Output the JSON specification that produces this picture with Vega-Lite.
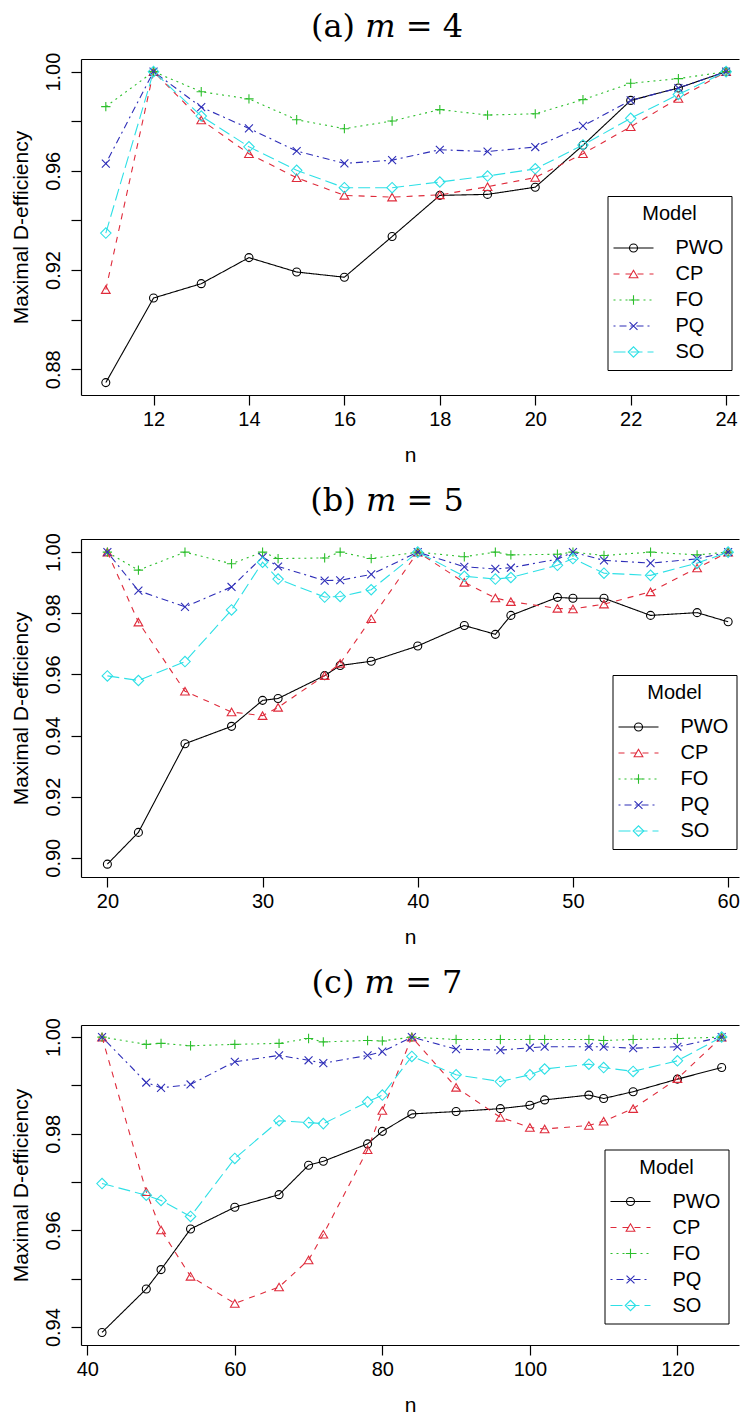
{
  "$schema": "https://vega.github.io/schema/vega-lite/v6.json",
  "background": "white",
  "padding": {"left": 10, "top": 11, "right": 0, "bottom": 0},
  "config": {
    "font": "Liberation Sans",
    "view": {"stroke": null},
    "title": {"font": "DejaVu Serif", "fontSize": 32, "fontWeight": "normal", "color": "#000", "anchor": "middle", "dx": -23},
    "axis": {"domainColor": "#000", "tickColor": "#000", "labelColor": "#000", "titleColor": "#000", "labelFont": "Liberation Sans", "titleFont": "Liberation Sans", "labelFontSize": 20, "titleFontSize": 21, "titleFontWeight": "normal", "tickSize": 10, "grid": false, "domainWidth": 1.2, "tickWidth": 1.2, "labelOverlap": false, "labelFlush": false},
    "axisX": {"labelPadding": 4, "titlePadding": 15},
    "axisY": {"labelAngle": 270, "labelAlign": "center", "labelBaseline": "alphabetic", "labelPadding": 12, "titlePadding": 13.5, "minExtent": 36, "maxExtent": 36},
    "legend": {"labelFont": "Liberation Sans", "titleFont": "Liberation Sans", "labelFontSize": 20, "titleFontSize": 20, "titleFontWeight": "normal", "rowPadding": 6, "padding": 8, "titlePadding": 14, "titleAnchor": "middle", "symbolStrokeWidth": 1.1}
  },
  "datasets": {
    "a": [
      {"model": "PWO", "n": 11, "eff": 0.8746}, {"model": "PWO", "n": 12, "eff": 0.9087}, {"model": "PWO", "n": 13, "eff": 0.9145}, {"model": "PWO", "n": 14, "eff": 0.925}, {"model": "PWO", "n": 15, "eff": 0.9192}, {"model": "PWO", "n": 16, "eff": 0.9171}, {"model": "PWO", "n": 17, "eff": 0.9335}, {"model": "PWO", "n": 18, "eff": 0.9501}, {"model": "PWO", "n": 19, "eff": 0.9505}, {"model": "PWO", "n": 20, "eff": 0.9534}, {"model": "PWO", "n": 21, "eff": 0.9703}, {"model": "PWO", "n": 22, "eff": 0.9884}, {"model": "PWO", "n": 23, "eff": 0.9934}, {"model": "PWO", "n": 24, "eff": 1.0},
      {"model": "CP", "n": 11, "eff": 0.9121}, {"model": "CP", "n": 12, "eff": 1.0}, {"model": "CP", "n": 13, "eff": 0.9805}, {"model": "CP", "n": 14, "eff": 0.9669}, {"model": "CP", "n": 15, "eff": 0.9572}, {"model": "CP", "n": 16, "eff": 0.9501}, {"model": "CP", "n": 17, "eff": 0.9494}, {"model": "CP", "n": 18, "eff": 0.9503}, {"model": "CP", "n": 19, "eff": 0.9536}, {"model": "CP", "n": 20, "eff": 0.9573}, {"model": "CP", "n": 21, "eff": 0.9669}, {"model": "CP", "n": 22, "eff": 0.9778}, {"model": "CP", "n": 23, "eff": 0.9892}, {"model": "CP", "n": 24, "eff": 1.0},
      {"model": "FO", "n": 11, "eff": 0.9859}, {"model": "FO", "n": 12, "eff": 1.0}, {"model": "FO", "n": 13, "eff": 0.9919}, {"model": "FO", "n": 14, "eff": 0.989}, {"model": "FO", "n": 15, "eff": 0.9806}, {"model": "FO", "n": 16, "eff": 0.977}, {"model": "FO", "n": 17, "eff": 0.9801}, {"model": "FO", "n": 18, "eff": 0.9847}, {"model": "FO", "n": 19, "eff": 0.9825}, {"model": "FO", "n": 20, "eff": 0.983}, {"model": "FO", "n": 21, "eff": 0.9887}, {"model": "FO", "n": 22, "eff": 0.9953}, {"model": "FO", "n": 23, "eff": 0.9972}, {"model": "FO", "n": 24, "eff": 1.0},
      {"model": "PQ", "n": 11, "eff": 0.9629}, {"model": "PQ", "n": 12, "eff": 1.0}, {"model": "PQ", "n": 13, "eff": 0.9857}, {"model": "PQ", "n": 14, "eff": 0.9771}, {"model": "PQ", "n": 15, "eff": 0.968}, {"model": "PQ", "n": 16, "eff": 0.963}, {"model": "PQ", "n": 17, "eff": 0.9643}, {"model": "PQ", "n": 18, "eff": 0.9685}, {"model": "PQ", "n": 19, "eff": 0.9678}, {"model": "PQ", "n": 20, "eff": 0.9696}, {"model": "PQ", "n": 21, "eff": 0.9781}, {"model": "PQ", "n": 22, "eff": 0.9884}, {"model": "PQ", "n": 23, "eff": 0.9934}, {"model": "PQ", "n": 24, "eff": 1.0},
      {"model": "SO", "n": 11, "eff": 0.9349}, {"model": "SO", "n": 12, "eff": 1.0}, {"model": "SO", "n": 13, "eff": 0.9821}, {"model": "SO", "n": 14, "eff": 0.9697}, {"model": "SO", "n": 15, "eff": 0.9602}, {"model": "SO", "n": 16, "eff": 0.9532}, {"model": "SO", "n": 17, "eff": 0.9532}, {"model": "SO", "n": 18, "eff": 0.9555}, {"model": "SO", "n": 19, "eff": 0.9579}, {"model": "SO", "n": 20, "eff": 0.9608}, {"model": "SO", "n": 21, "eff": 0.9704}, {"model": "SO", "n": 22, "eff": 0.9812}, {"model": "SO", "n": 23, "eff": 0.9908}, {"model": "SO", "n": 24, "eff": 1.0}
    ],
    "b": [
      {"model": "PWO", "n": 20, "eff": 0.8979}, {"model": "PWO", "n": 22, "eff": 0.9083}, {"model": "PWO", "n": 25, "eff": 0.9373}, {"model": "PWO", "n": 28, "eff": 0.943}, {"model": "PWO", "n": 30, "eff": 0.9515}, {"model": "PWO", "n": 31, "eff": 0.9521}, {"model": "PWO", "n": 34, "eff": 0.9596}, {"model": "PWO", "n": 35, "eff": 0.9629}, {"model": "PWO", "n": 37, "eff": 0.9643}, {"model": "PWO", "n": 40, "eff": 0.9693}, {"model": "PWO", "n": 43, "eff": 0.976}, {"model": "PWO", "n": 45, "eff": 0.9731}, {"model": "PWO", "n": 46, "eff": 0.9793}, {"model": "PWO", "n": 49, "eff": 0.9852}, {"model": "PWO", "n": 50, "eff": 0.9849}, {"model": "PWO", "n": 52, "eff": 0.9849}, {"model": "PWO", "n": 55, "eff": 0.9793}, {"model": "PWO", "n": 58, "eff": 0.9802}, {"model": "PWO", "n": 60, "eff": 0.9772},
      {"model": "CP", "n": 20, "eff": 1.0}, {"model": "CP", "n": 22, "eff": 0.9771}, {"model": "CP", "n": 25, "eff": 0.9545}, {"model": "CP", "n": 28, "eff": 0.9477}, {"model": "CP", "n": 30, "eff": 0.9465}, {"model": "CP", "n": 31, "eff": 0.9492}, {"model": "CP", "n": 34, "eff": 0.9596}, {"model": "CP", "n": 35, "eff": 0.9636}, {"model": "CP", "n": 37, "eff": 0.9782}, {"model": "CP", "n": 40, "eff": 1.0}, {"model": "CP", "n": 43, "eff": 0.9901}, {"model": "CP", "n": 45, "eff": 0.985}, {"model": "CP", "n": 46, "eff": 0.9838}, {"model": "CP", "n": 49, "eff": 0.9816}, {"model": "CP", "n": 50, "eff": 0.9814}, {"model": "CP", "n": 52, "eff": 0.983}, {"model": "CP", "n": 55, "eff": 0.987}, {"model": "CP", "n": 58, "eff": 0.9948}, {"model": "CP", "n": 60, "eff": 1.0},
      {"model": "FO", "n": 20, "eff": 1.0}, {"model": "FO", "n": 22, "eff": 0.9941}, {"model": "FO", "n": 25, "eff": 1.0}, {"model": "FO", "n": 28, "eff": 0.9962}, {"model": "FO", "n": 30, "eff": 1.0}, {"model": "FO", "n": 31, "eff": 0.9979}, {"model": "FO", "n": 34, "eff": 0.9981}, {"model": "FO", "n": 35, "eff": 1.0}, {"model": "FO", "n": 37, "eff": 0.9979}, {"model": "FO", "n": 40, "eff": 1.0}, {"model": "FO", "n": 43, "eff": 0.9985}, {"model": "FO", "n": 45, "eff": 1.0}, {"model": "FO", "n": 46, "eff": 0.9991}, {"model": "FO", "n": 49, "eff": 0.9993}, {"model": "FO", "n": 50, "eff": 1.0}, {"model": "FO", "n": 52, "eff": 0.9989}, {"model": "FO", "n": 55, "eff": 1.0}, {"model": "FO", "n": 58, "eff": 0.9991}, {"model": "FO", "n": 60, "eff": 1.0},
      {"model": "PQ", "n": 20, "eff": 1.0}, {"model": "PQ", "n": 22, "eff": 0.9874}, {"model": "PQ", "n": 25, "eff": 0.9821}, {"model": "PQ", "n": 28, "eff": 0.9886}, {"model": "PQ", "n": 30, "eff": 0.9984}, {"model": "PQ", "n": 31, "eff": 0.9953}, {"model": "PQ", "n": 34, "eff": 0.9907}, {"model": "PQ", "n": 35, "eff": 0.9908}, {"model": "PQ", "n": 37, "eff": 0.9927}, {"model": "PQ", "n": 40, "eff": 1.0}, {"model": "PQ", "n": 43, "eff": 0.9952}, {"model": "PQ", "n": 45, "eff": 0.9945}, {"model": "PQ", "n": 46, "eff": 0.9949}, {"model": "PQ", "n": 49, "eff": 0.9977}, {"model": "PQ", "n": 50, "eff": 1.0}, {"model": "PQ", "n": 52, "eff": 0.9973}, {"model": "PQ", "n": 55, "eff": 0.9964}, {"model": "PQ", "n": 58, "eff": 0.9978}, {"model": "PQ", "n": 60, "eff": 1.0},
      {"model": "SO", "n": 20, "eff": 0.9595}, {"model": "SO", "n": 22, "eff": 0.958}, {"model": "SO", "n": 25, "eff": 0.9642}, {"model": "SO", "n": 28, "eff": 0.9811}, {"model": "SO", "n": 30, "eff": 0.9967}, {"model": "SO", "n": 31, "eff": 0.9912}, {"model": "SO", "n": 34, "eff": 0.9853}, {"model": "SO", "n": 35, "eff": 0.9855}, {"model": "SO", "n": 37, "eff": 0.9877}, {"model": "SO", "n": 40, "eff": 1.0}, {"model": "SO", "n": 43, "eff": 0.9921}, {"model": "SO", "n": 45, "eff": 0.9912}, {"model": "SO", "n": 46, "eff": 0.9917}, {"model": "SO", "n": 49, "eff": 0.9957}, {"model": "SO", "n": 50, "eff": 0.9979}, {"model": "SO", "n": 52, "eff": 0.9931}, {"model": "SO", "n": 55, "eff": 0.9924}, {"model": "SO", "n": 58, "eff": 0.9964}, {"model": "SO", "n": 60, "eff": 1.0}
    ],
    "c": [
      {"model": "PWO", "n": 42, "eff": 0.9389}, {"model": "PWO", "n": 48, "eff": 0.9479}, {"model": "PWO", "n": 50, "eff": 0.9519}, {"model": "PWO", "n": 54, "eff": 0.9603}, {"model": "PWO", "n": 60, "eff": 0.9648}, {"model": "PWO", "n": 66, "eff": 0.9674}, {"model": "PWO", "n": 70, "eff": 0.9735}, {"model": "PWO", "n": 72, "eff": 0.9743}, {"model": "PWO", "n": 78, "eff": 0.9779}, {"model": "PWO", "n": 80, "eff": 0.9805}, {"model": "PWO", "n": 84, "eff": 0.9841}, {"model": "PWO", "n": 90, "eff": 0.9846}, {"model": "PWO", "n": 96, "eff": 0.9852}, {"model": "PWO", "n": 100, "eff": 0.9859}, {"model": "PWO", "n": 102, "eff": 0.987}, {"model": "PWO", "n": 108, "eff": 0.988}, {"model": "PWO", "n": 110, "eff": 0.9873}, {"model": "PWO", "n": 114, "eff": 0.9887}, {"model": "PWO", "n": 120, "eff": 0.9913}, {"model": "PWO", "n": 126, "eff": 0.9937},
      {"model": "CP", "n": 42, "eff": 1.0}, {"model": "CP", "n": 48, "eff": 0.968}, {"model": "CP", "n": 50, "eff": 0.9601}, {"model": "CP", "n": 54, "eff": 0.9505}, {"model": "CP", "n": 60, "eff": 0.9449}, {"model": "CP", "n": 66, "eff": 0.9483}, {"model": "CP", "n": 70, "eff": 0.9539}, {"model": "CP", "n": 72, "eff": 0.9592}, {"model": "CP", "n": 78, "eff": 0.9767}, {"model": "CP", "n": 80, "eff": 0.9848}, {"model": "CP", "n": 84, "eff": 1.0}, {"model": "CP", "n": 90, "eff": 0.9896}, {"model": "CP", "n": 96, "eff": 0.9834}, {"model": "CP", "n": 100, "eff": 0.9813}, {"model": "CP", "n": 102, "eff": 0.981}, {"model": "CP", "n": 108, "eff": 0.9817}, {"model": "CP", "n": 110, "eff": 0.9826}, {"model": "CP", "n": 114, "eff": 0.9852}, {"model": "CP", "n": 120, "eff": 0.9914}, {"model": "CP", "n": 126, "eff": 1.0},
      {"model": "FO", "n": 42, "eff": 1.0}, {"model": "FO", "n": 48, "eff": 0.9985}, {"model": "FO", "n": 50, "eff": 0.9987}, {"model": "FO", "n": 54, "eff": 0.9982}, {"model": "FO", "n": 60, "eff": 0.9985}, {"model": "FO", "n": 66, "eff": 0.9987}, {"model": "FO", "n": 70, "eff": 0.9997}, {"model": "FO", "n": 72, "eff": 0.999}, {"model": "FO", "n": 78, "eff": 0.9993}, {"model": "FO", "n": 80, "eff": 0.9992}, {"model": "FO", "n": 84, "eff": 1.0}, {"model": "FO", "n": 90, "eff": 0.9995}, {"model": "FO", "n": 96, "eff": 0.9995}, {"model": "FO", "n": 100, "eff": 0.9995}, {"model": "FO", "n": 102, "eff": 0.9995}, {"model": "FO", "n": 108, "eff": 0.9995}, {"model": "FO", "n": 110, "eff": 0.9993}, {"model": "FO", "n": 114, "eff": 0.9995}, {"model": "FO", "n": 120, "eff": 0.9997}, {"model": "FO", "n": 126, "eff": 1.0},
      {"model": "PQ", "n": 42, "eff": 1.0}, {"model": "PQ", "n": 48, "eff": 0.9906}, {"model": "PQ", "n": 50, "eff": 0.9895}, {"model": "PQ", "n": 54, "eff": 0.9902}, {"model": "PQ", "n": 60, "eff": 0.9949}, {"model": "PQ", "n": 66, "eff": 0.9962}, {"model": "PQ", "n": 70, "eff": 0.9952}, {"model": "PQ", "n": 72, "eff": 0.9946}, {"model": "PQ", "n": 78, "eff": 0.9962}, {"model": "PQ", "n": 80, "eff": 0.997}, {"model": "PQ", "n": 84, "eff": 1.0}, {"model": "PQ", "n": 90, "eff": 0.9975}, {"model": "PQ", "n": 96, "eff": 0.9973}, {"model": "PQ", "n": 100, "eff": 0.9978}, {"model": "PQ", "n": 102, "eff": 0.998}, {"model": "PQ", "n": 108, "eff": 0.998}, {"model": "PQ", "n": 110, "eff": 0.998}, {"model": "PQ", "n": 114, "eff": 0.9977}, {"model": "PQ", "n": 120, "eff": 0.998}, {"model": "PQ", "n": 126, "eff": 1.0},
      {"model": "SO", "n": 42, "eff": 0.9697}, {"model": "SO", "n": 48, "eff": 0.9673}, {"model": "SO", "n": 50, "eff": 0.9662}, {"model": "SO", "n": 54, "eff": 0.9629}, {"model": "SO", "n": 60, "eff": 0.9749}, {"model": "SO", "n": 66, "eff": 0.9827}, {"model": "SO", "n": 70, "eff": 0.9823}, {"model": "SO", "n": 72, "eff": 0.9821}, {"model": "SO", "n": 78, "eff": 0.9866}, {"model": "SO", "n": 80, "eff": 0.988}, {"model": "SO", "n": 84, "eff": 0.996}, {"model": "SO", "n": 90, "eff": 0.9922}, {"model": "SO", "n": 96, "eff": 0.9908}, {"model": "SO", "n": 100, "eff": 0.9922}, {"model": "SO", "n": 102, "eff": 0.9934}, {"model": "SO", "n": 108, "eff": 0.9944}, {"model": "SO", "n": 110, "eff": 0.9937}, {"model": "SO", "n": 114, "eff": 0.9929}, {"model": "SO", "n": 120, "eff": 0.9951}, {"model": "SO", "n": 126, "eff": 1.0}
    ]
  },
  "spacing": 19,
  "resolve": {
    "scale": {"color": "independent", "stroke": "independent", "strokeDash": "independent", "shape": "independent", "size": "independent"},
    "legend": {"color": "independent", "stroke": "independent", "strokeDash": "independent", "shape": "independent"}
  },
  "vconcat": [
    {
      "title": {"text": "(a)  𝑚 = 4", "offset": 8},
      "width": 658, "height": 336,
      "data": {"name": "a"},
      "layer": [
        {
          "mark": {"type": "line", "strokeWidth": 1.1},
          "encoding": {
            "x": {"field": "n", "type": "quantitative", "scale": {"domain": [10.48, 24.27], "nice": false, "zero": false}, "axis": {"orient": "bottom", "values": [12, 14, 16, 18, 20, 22, 24], "title": "n"}},
            "y": {"field": "eff", "type": "quantitative", "scale": {"domain": [0.8696, 1.0051], "nice": false, "zero": false}, "axis": {"values": [0.88, 0.9, 0.92, 0.94, 0.96, 0.98, 1.0], "labelExpr": "round(datum.value*100) % 4 == 0 ? format(datum.value, '.2f') : ''", "title": "Maximal D-efficiency"}},
            "stroke": {"field": "model", "type": "nominal", "scale": {"domain": ["PWO", "CP", "FO", "PQ", "SO"], "range": ["#000000", "#DF2B3B", "#2DBF2D", "#2E2EB8", "#2EE0E6"]}, "legend": {"orient": "none", "legendX": 526.5, "legendY": 137, "title": "Model", "symbolType": "M-4,0H4", "symbolSize": 100, "symbolOffset": 8, "labelOffset": 32, "strokeColor": "#000", "labelColor": "#000", "titleColor": "#000"}},
            "strokeDash": {"field": "model", "type": "nominal", "scale": {"domain": ["PWO", "CP", "FO", "PQ", "SO"], "range": [[1, 0], [6, 6], [2, 4], [2, 4, 7, 4], [12, 5]]}, "legend": {"orient": "none", "legendX": 526.5, "legendY": 137, "title": "Model", "symbolType": "M-4,0H4", "symbolSize": 100, "symbolOffset": 8, "labelOffset": 32, "strokeColor": "#000", "labelColor": "#000", "titleColor": "#000"}}
          }
        },
        {
          "mark": {"type": "point", "filled": false, "strokeWidth": 1.1, "opacity": 1},
          "encoding": {
            "x": {"field": "n", "type": "quantitative", "axis": {"orient": "top", "labels": false, "ticks": false, "title": null, "domain": true}},
            "y": {"field": "eff", "type": "quantitative"},
            "color": {"field": "model", "type": "nominal", "sort": null, "scale": {"range": ["#000000", "#DF2B3B", "#2DBF2D", "#2E2EB8", "#2EE0E6"]}, "legend": {"orient": "none", "legendX": 526.5, "legendY": 137, "title": " ", "symbolSize": 80, "symbolOffset": 8, "labelOffset": 32, "labelExpr": "' '", "labelColor": "transparent", "titleColor": "transparent"}},
            "shape": {"field": "model", "type": "nominal", "sort": null, "scale": {"range": ["circle", "triangle-up", "M-1,0H1M0,-1V1", "M-0.8,-0.8L0.8,0.8M-0.8,0.8L0.8,-0.8", "diamond"]}, "legend": {"orient": "none", "legendX": 526.5, "legendY": 137, "title": " ", "symbolSize": 80, "symbolOffset": 8, "labelOffset": 32, "labelExpr": "' '", "labelColor": "transparent", "titleColor": "transparent"}},
            "size": {"field": "model", "type": "ordinal", "sort": null, "scale": {"range": [64, 110, 120, 110, 120]}, "legend": null}
          }
        }
      ]
    },
    {
      "title": {"text": "(b)  𝑚 = 5", "offset": 15},
      "width": 658, "height": 338,
      "data": {"name": "b"},
      "layer": [
        {
          "mark": {"type": "line", "strokeWidth": 1.1},
          "encoding": {
            "x": {"field": "n", "type": "quantitative", "scale": {"domain": [18.3, 60.7], "nice": false, "zero": false}, "axis": {"orient": "bottom", "values": [20, 30, 40, 50, 60], "title": "n"}},
            "y": {"field": "eff", "type": "quantitative", "scale": {"domain": [0.8937, 1.0043], "nice": false, "zero": false}, "axis": {"values": [0.9, 0.92, 0.94, 0.96, 0.98, 1.0], "format": ".2f", "title": "Maximal D-efficiency"}},
            "stroke": {"field": "model", "type": "nominal", "scale": {"domain": ["PWO", "CP", "FO", "PQ", "SO"], "range": ["#000000", "#DF2B3B", "#2DBF2D", "#2E2EB8", "#2EE0E6"]}, "legend": {"orient": "none", "legendX": 531.5, "legendY": 136, "title": "Model", "symbolType": "M-4,0H4", "symbolSize": 100, "symbolOffset": 8, "labelOffset": 32, "strokeColor": "#000", "labelColor": "#000", "titleColor": "#000"}},
            "strokeDash": {"field": "model", "type": "nominal", "scale": {"domain": ["PWO", "CP", "FO", "PQ", "SO"], "range": [[1, 0], [6, 6], [2, 4], [2, 4, 7, 4], [12, 5]]}, "legend": {"orient": "none", "legendX": 531.5, "legendY": 136, "title": "Model", "symbolType": "M-4,0H4", "symbolSize": 100, "symbolOffset": 8, "labelOffset": 32, "strokeColor": "#000", "labelColor": "#000", "titleColor": "#000"}}
          }
        },
        {
          "mark": {"type": "point", "filled": false, "strokeWidth": 1.1, "opacity": 1},
          "encoding": {
            "x": {"field": "n", "type": "quantitative", "axis": {"orient": "top", "labels": false, "ticks": false, "title": null, "domain": true}},
            "y": {"field": "eff", "type": "quantitative"},
            "color": {"field": "model", "type": "nominal", "sort": null, "scale": {"range": ["#000000", "#DF2B3B", "#2DBF2D", "#2E2EB8", "#2EE0E6"]}, "legend": {"orient": "none", "legendX": 531.5, "legendY": 136, "title": " ", "symbolSize": 80, "symbolOffset": 8, "labelOffset": 32, "labelExpr": "' '", "labelColor": "transparent", "titleColor": "transparent"}},
            "shape": {"field": "model", "type": "nominal", "sort": null, "scale": {"range": ["circle", "triangle-up", "M-1,0H1M0,-1V1", "M-0.8,-0.8L0.8,0.8M-0.8,0.8L0.8,-0.8", "diamond"]}, "legend": {"orient": "none", "legendX": 531.5, "legendY": 136, "title": " ", "symbolSize": 80, "symbolOffset": 8, "labelOffset": 32, "labelExpr": "' '", "labelColor": "transparent", "titleColor": "transparent"}},
            "size": {"field": "model", "type": "ordinal", "sort": null, "scale": {"range": [64, 110, 120, 110, 120]}, "legend": null}
          }
        }
      ]
    },
    {
      "title": {"text": "(c)  𝑚 = 7", "offset": 18},
      "width": 658, "height": 320,
      "data": {"name": "c"},
      "layer": [
        {
          "mark": {"type": "line", "strokeWidth": 1.1},
          "encoding": {
            "x": {"field": "n", "type": "quantitative", "scale": {"domain": [39.15, 128.35], "nice": false, "zero": false}, "axis": {"orient": "bottom", "values": [40, 60, 80, 100, 120], "title": "n"}},
            "y": {"field": "eff", "type": "quantitative", "scale": {"domain": [0.9363, 1.0025], "nice": false, "zero": false}, "axis": {"values": [0.94, 0.95, 0.96, 0.97, 0.98, 0.99, 1.0], "labelExpr": "round(datum.value*100) % 2 == 0 ? format(datum.value, '.2f') : ''", "title": "Maximal D-efficiency"}},
            "stroke": {"field": "model", "type": "nominal", "scale": {"domain": ["PWO", "CP", "FO", "PQ", "SO"], "range": ["#000000", "#DF2B3B", "#2DBF2D", "#2E2EB8", "#2EE0E6"]}, "legend": {"orient": "none", "legendX": 523.5, "legendY": 124.5, "title": "Model", "symbolType": "M-4,0H4", "symbolSize": 100, "symbolOffset": 8, "labelOffset": 32, "strokeColor": "#000", "labelColor": "#000", "titleColor": "#000"}},
            "strokeDash": {"field": "model", "type": "nominal", "scale": {"domain": ["PWO", "CP", "FO", "PQ", "SO"], "range": [[1, 0], [6, 6], [2, 4], [2, 4, 7, 4], [12, 5]]}, "legend": {"orient": "none", "legendX": 523.5, "legendY": 124.5, "title": "Model", "symbolType": "M-4,0H4", "symbolSize": 100, "symbolOffset": 8, "labelOffset": 32, "strokeColor": "#000", "labelColor": "#000", "titleColor": "#000"}}
          }
        },
        {
          "mark": {"type": "point", "filled": false, "strokeWidth": 1.1, "opacity": 1},
          "encoding": {
            "x": {"field": "n", "type": "quantitative", "axis": {"orient": "top", "labels": false, "ticks": false, "title": null, "domain": true}},
            "y": {"field": "eff", "type": "quantitative"},
            "color": {"field": "model", "type": "nominal", "sort": null, "scale": {"range": ["#000000", "#DF2B3B", "#2DBF2D", "#2E2EB8", "#2EE0E6"]}, "legend": {"orient": "none", "legendX": 523.5, "legendY": 124.5, "title": " ", "symbolSize": 80, "symbolOffset": 8, "labelOffset": 32, "labelExpr": "' '", "labelColor": "transparent", "titleColor": "transparent"}},
            "shape": {"field": "model", "type": "nominal", "sort": null, "scale": {"range": ["circle", "triangle-up", "M-1,0H1M0,-1V1", "M-0.8,-0.8L0.8,0.8M-0.8,0.8L0.8,-0.8", "diamond"]}, "legend": {"orient": "none", "legendX": 523.5, "legendY": 124.5, "title": " ", "symbolSize": 80, "symbolOffset": 8, "labelOffset": 32, "labelExpr": "' '", "labelColor": "transparent", "titleColor": "transparent"}},
            "size": {"field": "model", "type": "ordinal", "sort": null, "scale": {"range": [64, 110, 120, 110, 120]}, "legend": null}
          }
        }
      ]
    }
  ]
}
